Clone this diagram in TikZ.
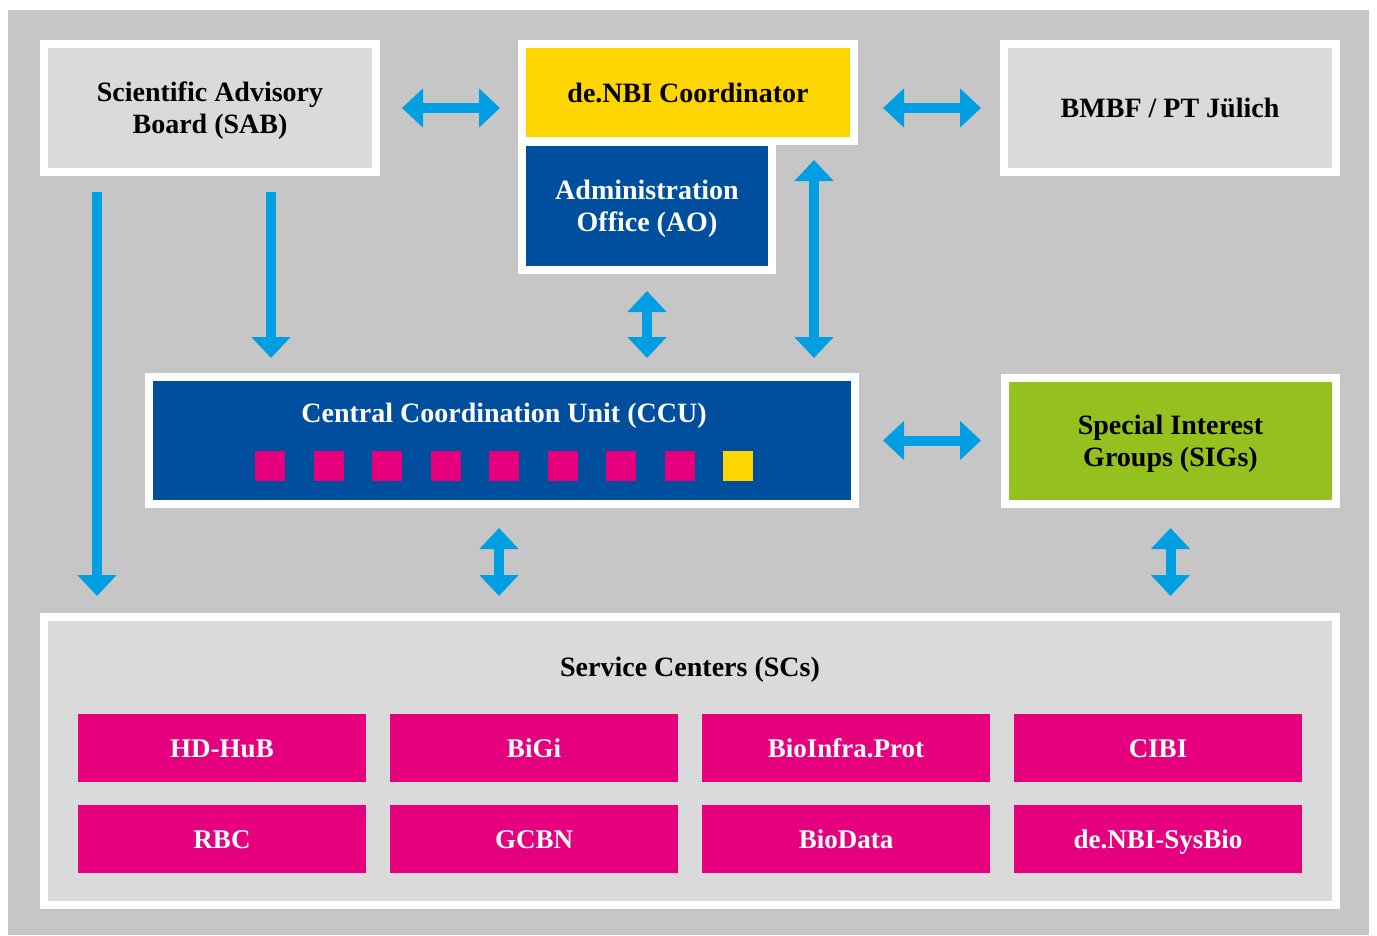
\documentclass[tikz,border=0pt]{standalone}
\usepackage{fontspec}
\setmainfont{Liberation Serif}
\usetikzlibrary{arrows.meta}

\definecolor{bggray}{HTML}{C6C6C6}
\definecolor{boxgray}{HTML}{DADADA}
\definecolor{nbiyellow}{HTML}{FFD500}
\definecolor{nbiblue}{HTML}{004F9F}
\definecolor{nbipink}{HTML}{E6007E}
\definecolor{nbigreen}{HTML}{95C11F}
\definecolor{arrowblue}{HTML}{009FE3}

\begin{document}
\begin{tikzpicture}[x=1pt, y=-1pt]
        % Setup the styles for the boxes and arrows
        \tikzset{box style/.style={rectangle,
                                   draw=white,
                                   line width=8pt,
                                   text depth=0pt,
                                   font=\fontsize{28}{32}\selectfont\bfseries},
                 two lines/.style={align=center},
                 one line/.style={text height=19pt},
                 label style/.style={align=center,
                                     text depth=0pt,
                                     font=\fontsize{28}{32}\selectfont\bfseries},
                 sc style/.style={rectangle,
                                  fill=nbipink,
                                  text=white,
                                  minimum width=288pt,
                                  minimum height=68pt,
                                  text height=19pt,
                                  text depth=0pt,
                                  font=\fontsize{27}{32}\selectfont\bfseries},
                 square style/.style={rectangle,
                                      minimum size=30pt,
                                      inner sep=0pt},
                 arrow style/.style={draw=arrowblue,
                                     line width=10pt,
                                     >={Triangle[length=21pt,width=38pt]}}}

        % Background and frame
        \useasboundingbox (0,0) rectangle (1377,935);
        \fill[bggray] (8,10) rectangle (1369,935);

        % Draw the boxes
        \node[box style, two lines, fill=boxgray, minimum width=332pt, minimum height=128pt]
            at (210,108) (sab) {Scientific Advisory\\Board (SAB)};
        \node[box style, two lines, fill=nbiblue, text=white, minimum width=250pt, minimum height=128pt]
            at (647,206) (ao) {Administration\\Office (AO)};
        \node[box style, one line, fill=nbiyellow, minimum width=332pt, minimum height=97pt]
            at (688,92.5) (coord) {de.NBI Coordinator};
        \node[box style, one line, fill=boxgray, minimum width=332pt, minimum height=128pt]
            at (1170,108) (bmbf) {BMBF / PT Jülich};
        \node[box style, fill=nbiblue, minimum width=706pt, minimum height=127pt]
            at (502,440.5) (ccu) {};
        \node[box style, two lines, fill=nbigreen, minimum width=331pt, minimum height=126pt]
            at (1170.5,441) (sig) {Special Interest\\Groups (SIGs)};
        \node[box style, fill=boxgray, minimum width=1292pt, minimum height=288pt]
            at (690,761) (sc) {};

        % Titles of the big boxes
        \node[label style, text=white] at (504,413) (ccutitle) {Central Coordination Unit (CCU)};
        \node[label style] at (690,667) (sctitle) {Service Centers (SCs)};

        % Small squares in the CCU
        \foreach \i in {0,...,7}
            \node[square style, fill=nbipink] at (270+58.5*\i,465.5) (sq\i) {};
        \node[square style, fill=nbiyellow] at (738,465.5) (sq8) {};

        % Service centers
        \node[sc style] at (222,748) (hdhub) {HD-HuB};
        \node[sc style] at (534,748) (bigi) {BiGi};
        \node[sc style] at (846,748) (bioinfra) {BioInfra.Prot};
        \node[sc style] at (1158,748) (cibi) {CIBI};
        \node[sc style] at (222,839) (rbc) {RBC};
        \node[sc style] at (534,839) (gcbn) {GCBN};
        \node[sc style] at (846,839) (biodata) {BioData};
        \node[sc style] at (1158,839) (sysbio) {de.NBI-SysBio};

        % Connect the boxes with arrows
        \draw[arrow style, <->] ([xshift=22pt]sab.east) -- ([xshift=-18pt]sab.east -| coord.west);
        \draw[arrow style, <->] ([xshift=25pt]bmbf.west -| coord.east) -- ([xshift=-19pt]bmbf.west);
        \draw[arrow style, <->] ([xshift=24pt]ccu.east) -- ([xshift=-20pt]ccu.east -| sig.west);
        \draw[arrow style, ->] ([xshift=57pt,yshift=-16pt]sab.south west)
            -- ([xshift=57pt,yshift=17pt]sab.south west |- sc.north);
        \draw[arrow style, ->] ([xshift=231pt,yshift=-16pt]sab.south west)
            -- ([xshift=231pt,yshift=15pt]sab.south west |- ccu.north);
        \draw[arrow style, <->] ([yshift=-17pt]ao.south) -- ([yshift=15pt]ao.south |- ccu.north);
        \draw[arrow style, <->] ([xshift=-44pt,yshift=-15pt]coord.south east)
            -- ([xshift=-44pt,yshift=15pt]coord.south east |- ccu.north);
        \draw[arrow style, <->] ([xshift=-3pt,yshift=-20pt]ccu.south)
            -- ([xshift=-3pt,yshift=17pt]ccu.south |- sc.north);
        \draw[arrow style, <->] ([yshift=-20pt]sig.south) -- ([yshift=17pt]sig.south |- sc.north);
\end{tikzpicture}
\end{document}
